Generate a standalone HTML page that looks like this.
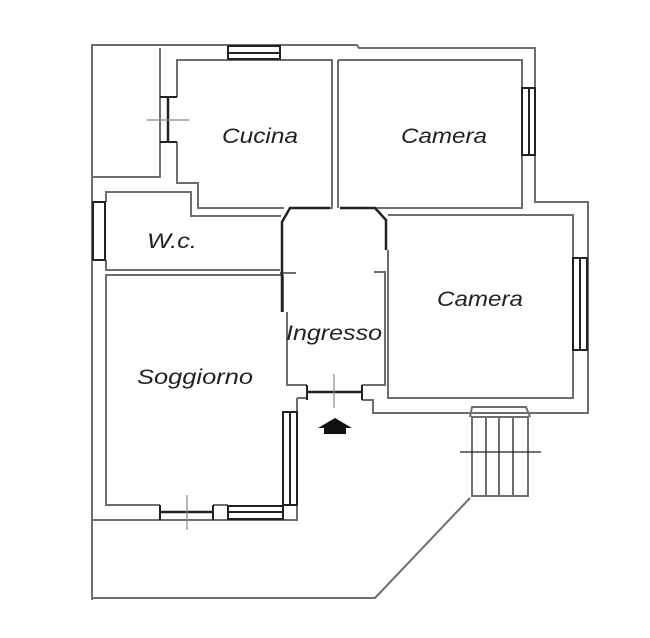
<!DOCTYPE html>
<html><head><meta charset="utf-8"><style>
html,body{margin:0;padding:0;background:#fff;width:650px;height:638px;overflow:hidden}
svg{display:block}
text{font-family:"Liberation Sans",sans-serif;font-style:italic;font-size:21px;fill:#222}
</style></head><body>
<svg width="650" height="638" viewBox="0 0 650 638" xmlns="http://www.w3.org/2000/svg">
<g fill="none" stroke="#6e6e6e" stroke-width="2">
<polyline points="92,600 92,45 357,45 359,48 535,48 535,202 588,202 588,413 373,413 373,400 362,400"/>
<polyline points="297,398 297,520 92,520"/>
<polyline points="92,598 375,598 470,498"/>
<polyline points="92,177 160,177 160,48"/>
<polyline points="177,97 177,60 332,60 332,208 290,208"/>
<polyline points="177,142 177,183 198,183 198,208 284,208"/>
<line x1="338" y1="60" x2="338" y2="208"/>
<polyline points="338,60 522,60 522,88"/>
<polyline points="522,155 522,208 375,208"/>
<polyline points="106,202 106,192 191,192 191,216 281,216"/>
<polyline points="106,260 106,270 280,270"/>
<line x1="280" y1="273" x2="296" y2="273"/>
<polyline points="283,275 106,275 106,505 160,505"/>
<polyline points="213,505 228,505"/>
<line x1="283" y1="275" x2="283" y2="312"/>
<polyline points="287,312 287,385 307,385"/>
<polyline points="362,385 385,385 385,272 374,272"/>
<polyline points="297,398 307,398"/>
<polyline points="388,250 388,398 573,398 573,350"/>
<polyline points="573,258 573,215 388,215"/>
<rect x="472" y="417" width="56" height="79"/>
<polyline points="470,417 472,407 526,407 530,417"/>
<line x1="486" y1="417" x2="486" y2="496"/>
<line x1="499" y1="417" x2="499" y2="496"/>
<line x1="513" y1="417" x2="513" y2="496"/>
</g>
<g stroke="#222" stroke-width="2" fill="none">
<rect x="228" y="46" width="52" height="13"/><line x1="228" y1="53" x2="280" y2="53"/>
<rect x="93" y="202" width="12" height="58"/>
<rect x="522" y="88" width="13" height="67"/><line x1="529" y1="88" x2="529" y2="155"/>
<rect x="573" y="258" width="14" height="92"/><line x1="580" y1="258" x2="580" y2="350"/>
<rect x="228" y="506" width="55" height="13"/><line x1="228" y1="512" x2="283" y2="512"/>
<rect x="283" y="412" width="14" height="93"/><line x1="290" y1="412" x2="290" y2="505"/>
<line x1="168" y1="97" x2="168" y2="142" stroke-width="2.5"/>
<line x1="160" y1="97" x2="177" y2="97"/><line x1="160" y1="142" x2="177" y2="142"/>
<line x1="160" y1="512" x2="213" y2="512" stroke-width="2.5"/>
<line x1="160" y1="505" x2="160" y2="520"/><line x1="213" y1="505" x2="213" y2="520"/>
<line x1="307" y1="392" x2="362" y2="392" stroke-width="2.5"/>
<line x1="307" y1="385" x2="307" y2="400"/><line x1="362" y1="385" x2="362" y2="400"/>
<polyline points="282,312 282,222 290,208 330,208" stroke-width="2.5"/>
<polyline points="340,208 375,208 386,220 386,250" stroke-width="2.5"/>
</g>
<g stroke="#888" stroke-width="1.2">
<line x1="147" y1="120" x2="189" y2="120"/>
<line x1="187" y1="495" x2="187" y2="530"/>
<line x1="334" y1="374" x2="334" y2="408"/>
<line x1="460" y1="452" x2="541" y2="452" stroke="#222"/>
</g>
<polygon points="335,418 352,428 346,428 346,434 324,434 324,428 318,428" fill="#111"/>
<text x="222" y="143" textLength="76" lengthAdjust="spacingAndGlyphs">Cucina</text>
<text x="401" y="143" textLength="86" lengthAdjust="spacingAndGlyphs">Camera</text>
<text x="147" y="248" textLength="50" lengthAdjust="spacingAndGlyphs">W.c.</text>
<text x="437" y="306" textLength="86" lengthAdjust="spacingAndGlyphs">Camera</text>
<text x="286" y="340" textLength="96" lengthAdjust="spacingAndGlyphs">Ingresso</text>
<text x="137" y="384" textLength="116" lengthAdjust="spacingAndGlyphs">Soggiorno</text>
</svg>
</body></html>
